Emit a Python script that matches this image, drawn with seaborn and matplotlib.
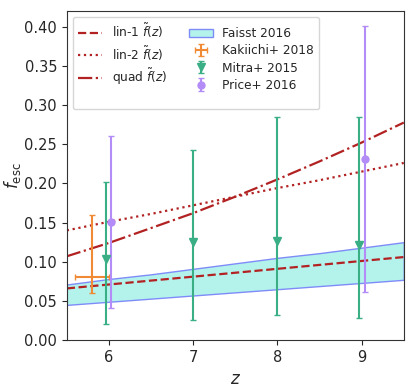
import numpy as np
import pandas as pd
import seaborn as sns
import matplotlib
matplotlib.use("Agg")
import matplotlib.pyplot as plt
from matplotlib.lines import Line2D

# model curves at z = 5.5 ... 9.5
z_grid = [5.5, 6.0, 6.5, 7.0, 7.5, 8.0, 8.5, 9.0, 9.5]
lin1 = [0.066, 0.071, 0.076, 0.081, 0.086, 0.091, 0.096, 0.101, 0.106]
lin2 = [0.140, 0.151, 0.161, 0.172, 0.183, 0.194, 0.204, 0.215, 0.226]
quad = [0.107, 0.124, 0.143, 0.162, 0.183, 0.205, 0.228, 0.252, 0.2775]

# Faisst 2016 band
faisst_lo = [0.045, 0.049, 0.053, 0.057, 0.061, 0.065, 0.069, 0.073, 0.077]
faisst_hi = [0.071, 0.078, 0.084, 0.091, 0.098, 0.105, 0.111, 0.118, 0.125]

# Kakiichi+ 2018
kak_z, kak_zerr = [5.8], [0.2]
kak_f, kak_lo, kak_hi = [0.08], [0.02], [0.08]

# Mitra+ 2015
mitra_z = [5.97, 7.0, 8.0, 8.97]
mitra_f = [0.103, 0.125, 0.126, 0.122]
mitra_lo = [0.083, 0.0995, 0.094, 0.0935]
mitra_hi = [0.099, 0.118, 0.159, 0.163]

# Price+ 2016
price_z = [6.03, 9.04]
price_f = [0.151, 0.231]
price_lo = [0.110, 0.170]
price_hi = [0.109, 0.170]

sns.set_style("ticks")
plt.rcParams["font.family"] = ["DejaVu Sans"]

fig, ax = plt.subplots(figsize=(4.15, 3.87), dpi=100)
fig.subplots_adjust(left=0.161, right=0.973, bottom=0.121, top=0.972)

red = "#b22222"
df = pd.DataFrame({"z": z_grid, "lin1": lin1, "lin2": lin2, "quad": quad})

band = ax.fill_between(z_grid, faisst_lo, faisst_hi, facecolor="#b3f3ec",
                       edgecolor="#7f8cf8", linewidth=1.0, label="Faisst 2016")
sns.lineplot(data=df, x="z", y="lin1", ax=ax, color=red, lw=1.6,
             linestyle="--", label=r"lin-1 $\tilde{f}(z)$")
sns.lineplot(data=df, x="z", y="lin2", ax=ax, color=red, lw=1.6,
             linestyle=":", label=r"lin-2 $\tilde{f}(z)$")
sns.lineplot(data=df, x="z", y="quad", ax=ax, color=red, lw=1.6,
             linestyle="-.", label=r"quad $\tilde{f}(z)$")

kak = ax.errorbar(kak_z, kak_f, xerr=kak_zerr, yerr=[kak_lo, kak_hi],
                  fmt="none", ecolor="#f08a35", elinewidth=1.5, capsize=2.5,
                  label="Kakiichi+ 2018")
mit = ax.errorbar(mitra_z, mitra_f, yerr=[mitra_lo, mitra_hi], fmt="v",
                  color="#3aae85", ms=5.5, elinewidth=1.5, capsize=2.5,
                  label="Mitra+ 2015")
pri = ax.errorbar(price_z, price_f, yerr=[price_lo, price_hi], fmt="o",
                  color="#b48cf7", ms=5, elinewidth=1.5, capsize=2.5,
                  label="Price+ 2016")

ax.set_xlim(5.5, 9.5)
ax.set_ylim(0, 0.42)
ax.set_xticks([6, 7, 8, 9])
ax.set_yticks(np.arange(0, 0.41, 0.05))
ax.yaxis.set_major_formatter(matplotlib.ticker.FormatStrFormatter("%.2f"))
ax.tick_params(labelsize=10.5, length=3.5)
ax.set_xlabel(r"$z$", fontsize=12)
ax.set_ylabel(r"$f_{\rm esc}$", fontsize=12, labelpad=1)
for s in ax.spines.values():
    s.set_color("#333333")

handles, labels = ax.get_legend_handles_labels()
hd = dict(zip(labels, handles))
blank = Line2D([], [], linestyle="none")
order = [r"lin-1 $\tilde{f}(z)$", r"lin-2 $\tilde{f}(z)$", r"quad $\tilde{f}(z)$"]
hs = [hd[k] for k in order] + [blank, band, kak, mit, pri]
ls = order + ["", "Faisst 2016", "Kakiichi+ 2018", "Mitra+ 2015", "Price+ 2016"]
ax.legend(hs, ls, loc="upper left", ncol=2, fontsize=8.7,
          handlelength=2.0, columnspacing=1.8, labelspacing=0.35,
          borderaxespad=0.5)

fig.savefig("out.png", dpi=100)
